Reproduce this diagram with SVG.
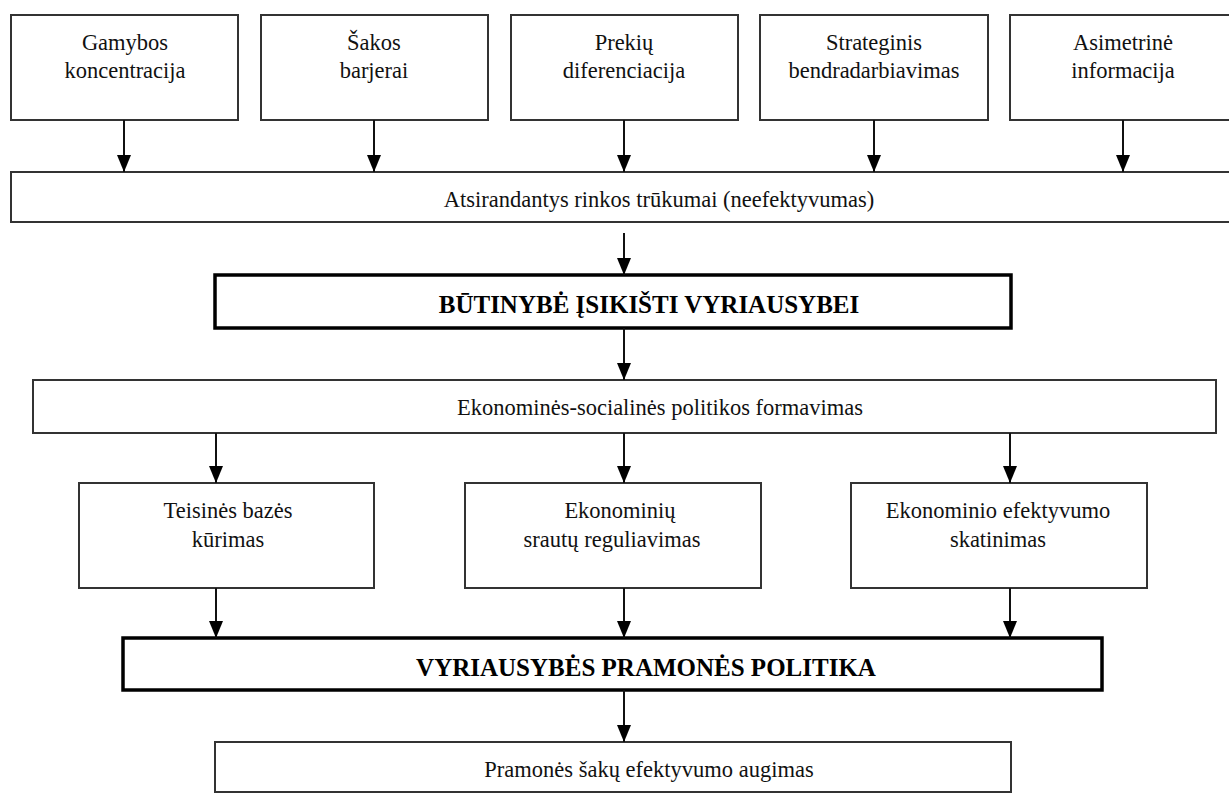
<svg xmlns="http://www.w3.org/2000/svg" width="1229" height="794" viewBox="0 0 1229 794">
  <defs>
    <!-- solid triangular arrowhead, tip at the end of the line -->
    <marker id="head" markerUnits="userSpaceOnUse" markerWidth="17" markerHeight="14" refX="17" refY="7" orient="auto" viewBox="0 0 17 14">
      <path d="M0,0 L17,7 L0,14 Z" fill="#000"/>
    </marker>
    <style>
      .box { fill: #fff; stroke: #333; stroke-width: 2; }
      .bold-box { fill: #fff; stroke: #000; stroke-width: 3.5; }
      .t { font-family: "Liberation Serif", "Times New Roman", serif; font-size: 22.5px; fill: #111; text-anchor: middle; }
      .tb { font-family: "Liberation Serif", "Times New Roman", serif; font-size: 25px; font-weight: bold; fill: #000; text-anchor: middle; }
      .conn line { stroke: #111; stroke-width: 2; marker-end: url(#head); }
    </style>
  </defs>
  <rect width="1229" height="794" fill="#fff"/>

  <!-- first row: sources of market failure -->
  <g id="n-gamybos">
    <rect class="box" x="11" y="15" width="227" height="105"/>
    <text class="t" x="125" y="50">Gamybos</text>
    <text class="t" x="125" y="78">koncentracija</text>
  </g>
  <g id="n-sakos">
    <rect class="box" x="261" y="15" width="227" height="105"/>
    <text class="t" x="374" y="50">Šakos</text>
    <text class="t" x="374" y="78">barjerai</text>
  </g>
  <g id="n-prekiu">
    <rect class="box" x="511" y="15" width="227" height="105"/>
    <text class="t" x="624" y="50">Prekių</text>
    <text class="t" x="624" y="78">diferenciacija</text>
  </g>
  <g id="n-strateginis">
    <rect class="box" x="760" y="15" width="228" height="105"/>
    <text class="t" x="874" y="50">Strateginis</text>
    <text class="t" x="874" y="78">bendradarbiavimas</text>
  </g>
  <g id="n-asimetrine">
    <rect class="box" x="1010" y="15" width="228" height="105"/>
    <text class="t" x="1123" y="50">Asimetrinė</text>
    <text class="t" x="1123" y="78">informacija</text>
  </g>

  <g id="n-trukumai">
    <rect class="box" x="11" y="172" width="1227" height="50"/>
    <text class="t" x="659" y="207">Atsirandantys rinkos trūkumai (neefektyvumas)</text>
  </g>

  <g id="n-butinybe">
    <rect class="bold-box" x="215" y="275" width="796" height="53"/>
    <text class="tb" x="649" y="313">BŪTINYBĖ ĮSIKIŠTI VYRIAUSYBEI</text>
  </g>

  <g id="n-formavimas">
    <rect class="box" x="33" y="380" width="1183" height="53"/>
    <text class="t" x="660" y="415">Ekonominės-socialinės politikos formavimas</text>
  </g>

  <!-- second row: policy directions -->
  <g id="n-teisines">
    <rect class="box" x="79" y="483" width="295" height="105"/>
    <text class="t" x="228" y="518">Teisinės bazės</text>
    <text class="t" x="228" y="547">kūrimas</text>
  </g>
  <g id="n-srautu">
    <rect class="box" x="465" y="483" width="296" height="105"/>
    <text class="t" x="620" y="518">Ekonominių</text>
    <text class="t" x="612" y="547">srautų reguliavimas</text>
  </g>
  <g id="n-efektyvumo">
    <rect class="box" x="851" y="483" width="296" height="105"/>
    <text class="t" x="998" y="518">Ekonominio efektyvumo</text>
    <text class="t" x="998" y="547">skatinimas</text>
  </g>

  <g id="n-politika">
    <rect class="bold-box" x="123" y="638" width="979" height="52"/>
    <text class="tb" x="646" y="676">VYRIAUSYBĖS PRAMONĖS POLITIKA</text>
  </g>

  <g id="n-augimas">
    <rect class="box" x="215" y="742" width="796" height="50"/>
    <text class="t" x="649" y="777">Pramonės šakų efektyvumo augimas</text>
  </g>

  <g id="connectors" class="conn">
    <line x1="124" y1="120" x2="124" y2="172"/>
    <line x1="374" y1="120" x2="374" y2="172"/>
    <line x1="624" y1="120" x2="624" y2="172"/>
    <line x1="874" y1="120" x2="874" y2="172"/>
    <line x1="1123" y1="120" x2="1123" y2="172"/>
    <line x1="624" y1="233" x2="624" y2="275"/>
    <line x1="624" y1="328" x2="624" y2="380"/>
    <line x1="216" y1="433" x2="216" y2="483"/>
    <line x1="624" y1="433" x2="624" y2="483"/>
    <line x1="1010" y1="433" x2="1010" y2="483"/>
    <line x1="216" y1="588" x2="216" y2="638"/>
    <line x1="624" y1="588" x2="624" y2="638"/>
    <line x1="1010" y1="588" x2="1010" y2="638"/>
    <line x1="624" y1="690" x2="624" y2="742"/>
  </g>
</svg>
